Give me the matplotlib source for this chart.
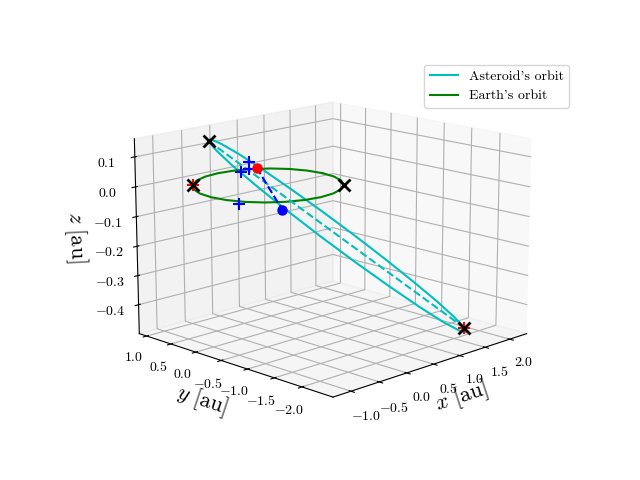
import matplotlib
matplotlib.use('Agg')
import matplotlib.pyplot as plt

plt.rcParams['font.family'] = ['cmr10', 'DejaVu Sans']
plt.rcParams['mathtext.fontset'] = 'cm'
plt.rcParams['axes.unicode_minus'] = False
plt.rcParams['axes.formatter.use_mathtext'] = True

# asteroid orbit
ast_x = [1.860, 2.026, 2.099, 2.073, 1.951, 1.740, 1.455, 1.116, 0.745, 0.369, 0.011, -0.302, -0.550,
         -0.716, -0.789, -0.763, -0.641, -0.430, -0.145, 0.194, 0.565, 0.941, 1.299, 1.612, 1.860]
ast_y = [-1.860, -1.529, -1.139, -0.715, -0.288, 0.115, 0.465, 0.739, 0.918, 0.989, 0.949, 0.799, 0.550,
         0.219, -0.171, -0.595, -1.022, -1.425, -1.775, -2.049, -2.228, -2.299, -2.259, -2.109, -1.860]
ast_z = [-0.490, -0.479, -0.447, -0.397, -0.331, -0.254, -0.172, -0.090, -0.013, 0.053, 0.103, 0.135, 0.146,
         0.135, 0.103, 0.053, -0.013, -0.090, -0.172, -0.254, -0.331, -0.397, -0.447, -0.479, -0.490]

# earth orbit
earth_x = [1.0, 0.966, 0.866, 0.707, 0.5, 0.259, 0.0, -0.259, -0.5, -0.707, -0.866, -0.966, -1.0,
           -0.966, -0.866, -0.707, -0.5, -0.259, 0.0, 0.259, 0.5, 0.707, 0.866, 0.966, 1.0]
earth_y = [0.0, 0.259, 0.5, 0.707, 0.866, 0.966, 1.0, 0.966, 0.866, 0.707, 0.5, 0.259, 0.0,
           -0.259, -0.5, -0.707, -0.866, -0.966, -1.0, -0.966, -0.866, -0.707, -0.5, -0.259, 0.0]
earth_z = [0.0] * 25

# apsides
apse_x = [-0.550, 1.860]
apse_y = [0.550, -1.860]
apse_z = [0.146, -0.490]
earth_apse_x = [-0.707, 0.707]
earth_apse_y = [0.707, -0.707]
earth_apse_z = [0.0, 0.0]

# nodes
node_x = [0.61, -0.833]
node_y = [0.89, -1.16]
node_z = [0.0, 0.0]

# blue crosses
cross_x = [0.77, 0.467, 0.255, -0.983]
cross_y = [1.22, 0.891, 0.82, -0.517]
cross_z = [0.0, 0.0, 0.0, 0.0]

xticks = [-1.0, -0.5, 0.0, 0.5, 1.0, 1.5, 2.0]
yticks = [-2.0, -1.5, -1.0, -0.5, 0.0, 0.5, 1.0]
zticks = [-0.4, -0.3, -0.2, -0.1, 0.0, 0.1]

fig = plt.figure()
ax = fig.add_subplot(projection='3d')
ax.view_init(elev=14.5, azim=-135)
ax.set_box_aspect((4.3, 4.3, 3.12), zoom=1.158)

ax.plot(ast_x, ast_y, ast_z, 'c', label="Asteroid's orbit")
ax.plot(earth_x, earth_y, earth_z, 'g', label="Earth's orbit")
ax.plot(apse_x, apse_y, apse_z, 'c--')
ax.plot(node_x, node_y, node_z, 'b--')
ax.plot(cross_x, cross_y, cross_z, 'b+', ms=8, mew=1.5)
ax.plot([earth_apse_x[0], apse_x[1]], [earth_apse_y[0], apse_y[1]], [earth_apse_z[0], apse_z[1]],
        'r+', ms=8, mew=1.5)
ax.plot(apse_x, apse_y, apse_z, 'kx', ms=8, mew=2)
ax.plot(earth_apse_x, earth_apse_y, earth_apse_z, 'kx', ms=8, mew=2)
ax.plot(node_x[:1], node_y[:1], node_z[:1], 'ro', ms=6.5)
ax.plot(node_x[1:], node_y[1:], node_z[1:], 'bo', ms=6.5)

ax.set_xlim(-1.31, 2.35)
ax.set_ylim(-2.545, 1.155)
ax.set_zlim(-0.5, 0.16)
ax.set_xticks(xticks)
ax.set_yticks(yticks)
ax.set_zticks(zticks)
ax.set_xticklabels(['$%.1f$' % v for v in xticks])
ax.set_yticklabels(['$%.1f$' % v for v in yticks])
ax.set_zticklabels(['$%.1f$' % v for v in zticks])
ax.tick_params(axis='x', pad=1.5)
ax.tick_params(axis='y', pad=0.5)
ax.tick_params(axis='z', pad=2)

ax.set_xlabel(r'$x\ [\mathrm{au}]$', fontsize=16, labelpad=-3.5)
ax.set_ylabel(r'$y\ [\mathrm{au}]$', fontsize=16, labelpad=-2)
ax.zaxis.set_rotate_label(False)
ax.set_zlabel(r'$z\ [\mathrm{au}]$', fontsize=16, rotation=-87, labelpad=0.5)
ax.legend(loc='upper right', bbox_to_anchor=(0.9, 0.88), bbox_transform=fig.transFigure)

plt.savefig('out.png')
